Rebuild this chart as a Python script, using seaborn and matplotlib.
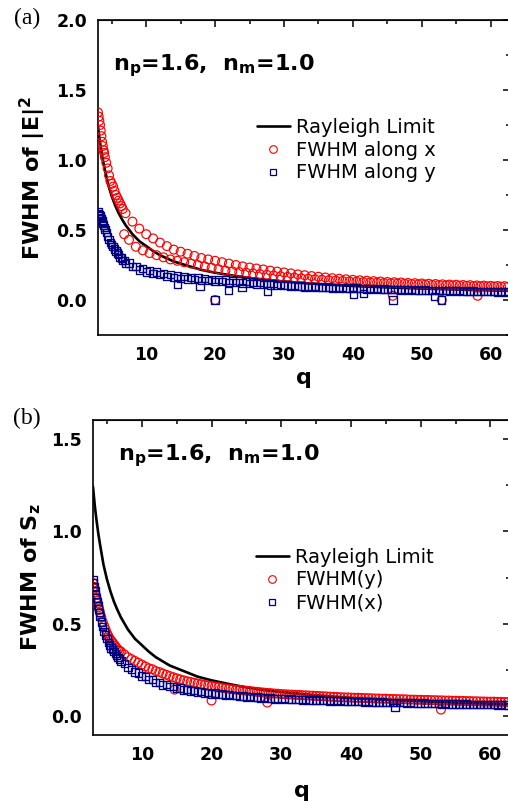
import numpy as np
import matplotlib
matplotlib.use("Agg")
import matplotlib.pyplot as plt
from matplotlib.lines import Line2D
from matplotlib.ticker import MultipleLocator
import seaborn as sns

# --------------------------------------------------------------------------------
# data
# --------------------------------------------------------------------------------
q = [3.0, 3.1, 3.2, 3.3, 3.4, 3.5, 3.6, 3.7, 3.8, 3.9,
     4.0, 4.2, 4.4, 4.6, 4.8, 5.0, 5.2, 5.4, 5.6, 5.8,
     6.0, 6.2, 6.4, 6.6, 6.8, 7.0, 7.5, 8.0, 8.5, 9.0,
     9.5, 10.0, 10.5, 11.0, 11.5, 12.0, 12.5, 13.0, 13.5, 14.0,
     14.5, 15.0, 15.5, 16.0, 16.5, 17.0, 17.5, 18.0, 18.5, 19.0,
     19.5, 20.0, 20.5, 21.0, 21.5, 22.0, 22.5, 23.0, 23.5, 24.0,
     24.5, 25.0, 25.5, 26.0, 26.5, 27.0, 27.5, 28.0, 28.5, 29.0,
     29.5, 30.0, 30.5, 31.0, 31.5, 32.0, 32.5, 33.0, 33.5, 34.0,
     34.5, 35.0, 35.5, 36.0, 36.5, 37.0, 37.5, 38.0, 38.5, 39.0,
     39.5, 40.0, 40.5, 41.0, 41.5, 42.0, 42.5, 43.0, 43.5, 44.0,
     44.5, 45.0, 45.5, 46.0, 46.5, 47.0, 47.5, 48.0, 48.5, 49.0,
     49.5, 50.0, 50.5, 51.0, 51.5, 52.0, 52.5, 53.0, 53.5, 54.0,
     54.5, 55.0, 55.5, 56.0, 56.5, 57.0, 57.5, 58.0, 58.5, 59.0,
     59.5, 60.0, 60.5, 61.0, 61.5, 62.0, 62.5]

# (a) FWHM of |E|^2
a_along_x = [1.34, 1.31, 1.28, 1.25, 1.21, 1.17, 1.13, 1.10, 1.07, 1.05,
             1.02, 0.98, 0.94, 0.89, 0.85, 0.83, 0.81, 0.78, 0.75, 0.73,
             0.71, 0.69, 0.67, 0.65, 0.47, 0.62, 0.43, 0.56, 0.38, 0.51,
             0.355, 0.47, 0.335, 0.44, 0.32, 0.41, 0.305, 0.385, 0.29, 0.36,
             0.28, 0.345, 0.27, 0.33, 0.26, 0.315, 0.25, 0.30, 0.24, 0.29,
             0.23, 0.28, 0.22, 0.27, 0.21, 0.26, 0.205, 0.25, 0.20, 0.24,
             0.195, 0.232, 0.19, 0.225, 0.185, 0.218, 0.18, 0.21, 0.175, 0.203,
             0.17, 0.197, 0.165, 0.19, 0.16, 0.183, 0.155, 0.177, 0.152, 0.171,
             0.148, 0.166, 0.145, 0.161, 0.142, 0.156, 0.139, 0.152, 0.136, 0.148,
             0.133, 0.144, 0.131, 0.141, 0.128, 0.138, 0.126, 0.135, 0.124, 0.132,
             0.122, 0.129, 0.12, 0.127, 0.118, 0.125, 0.116, 0.122, 0.114, 0.12,
             0.112, 0.118, 0.11, 0.116, 0.108, 0.114, 0.107, 0.112, 0.105, 0.11,
             0.104, 0.109, 0.102, 0.107, 0.101, 0.106, 0.099, 0.104, 0.098, 0.103,
             0.097, 0.101, 0.096, 0.1, 0.095, 0.099, 0.094]
a_along_y = [0.63, 0.62, 0.61, 0.60, 0.59, 0.58, 0.565, 0.55, 0.535, 0.52,
             0.505, 0.48, 0.455, 0.43, 0.41, 0.395, 0.38, 0.365, 0.35, 0.335,
             0.325, 0.305, 0.30, 0.28, 0.28, 0.26, 0.265, 0.24, 0.24, 0.215,
             0.225, 0.20, 0.21, 0.19, 0.20, 0.18, 0.19, 0.17, 0.18, 0.16,
             0.172, 0.155, 0.167, 0.15, 0.162, 0.145, 0.157, 0.14, 0.152, 0.137,
             0.148, 0.133, 0.145, 0.13, 0.142, 0.127, 0.138, 0.124, 0.135, 0.121,
             0.132, 0.118, 0.128, 0.115, 0.124, 0.112, 0.12, 0.108, 0.116, 0.105,
             0.112, 0.102, 0.108, 0.099, 0.104, 0.096, 0.101, 0.094, 0.098, 0.092,
             0.096, 0.09, 0.094, 0.088, 0.092, 0.086, 0.09, 0.085, 0.088, 0.083,
             0.086, 0.082, 0.085, 0.08, 0.083, 0.079, 0.082, 0.077, 0.08, 0.076,
             0.079, 0.075, 0.077, 0.073, 0.076, 0.072, 0.075, 0.071, 0.073, 0.07,
             0.072, 0.069, 0.071, 0.068, 0.07, 0.067, 0.069, 0.066, 0.068, 0.065,
             0.067, 0.064, 0.066, 0.063, 0.065, 0.062, 0.064, 0.061, 0.063, 0.06,
             0.062, 0.059, 0.061, 0.058, 0.06, 0.057, 0.059]
a_x_out_q = [20.0, 45.8, 52.9, 58.1]
a_x_out = [0.0, 0.03, 0.0, 0.03]
a_y_out_q = [14.5, 17.8, 20.0, 21.9, 23.9, 27.6, 40.1, 41.5, 45.8, 51.8, 52.9]
a_y_out = [0.11, 0.10, 0.0, 0.07, 0.09, 0.065, 0.04, 0.045, 0.0, 0.025, 0.0]

# (b) FWHM of S_z
b_fwhm_y = [0.72, 0.70, 0.69, 0.67, 0.655, 0.64, 0.625, 0.61, 0.59, 0.575,
            0.56, 0.535, 0.51, 0.49, 0.47, 0.45, 0.435, 0.42, 0.41, 0.40,
            0.39, 0.38, 0.37, 0.36, 0.355, 0.35, 0.335, 0.32, 0.31, 0.30,
            0.29, 0.28, 0.27, 0.26, 0.255, 0.245, 0.24, 0.232, 0.225, 0.218,
            0.212, 0.206, 0.20, 0.195, 0.19, 0.186, 0.182, 0.178, 0.174, 0.17,
            0.167, 0.164, 0.161, 0.158, 0.155, 0.152, 0.15, 0.147, 0.145, 0.143,
            0.141, 0.139, 0.137, 0.135, 0.133, 0.131, 0.129, 0.127, 0.126, 0.124,
            0.123, 0.121, 0.12, 0.119, 0.118, 0.117, 0.116, 0.115, 0.114, 0.113,
            0.112, 0.111, 0.11, 0.109, 0.108, 0.107, 0.106, 0.105, 0.104, 0.103,
            0.103, 0.102, 0.101, 0.101, 0.1, 0.099, 0.099, 0.098, 0.097, 0.097,
            0.096, 0.096, 0.095, 0.094, 0.094, 0.093, 0.093, 0.092, 0.091, 0.091,
            0.09, 0.09, 0.089, 0.089, 0.088, 0.088, 0.087, 0.087, 0.086, 0.086,
            0.085, 0.085, 0.084, 0.084, 0.083, 0.083, 0.082, 0.082, 0.081, 0.081,
            0.08, 0.08, 0.08, 0.079, 0.079, 0.078, 0.078]
b_fwhm_x = [0.74, 0.72, 0.70, 0.68, 0.66, 0.64, 0.62, 0.60, 0.58, 0.56,
            0.54, 0.51, 0.485, 0.46, 0.44, 0.42, 0.40, 0.385, 0.37, 0.36,
            0.35, 0.34, 0.33, 0.32, 0.31, 0.30, 0.285, 0.265, 0.255, 0.24,
            0.235, 0.218, 0.215, 0.198, 0.20, 0.185, 0.185, 0.17, 0.172, 0.16,
            0.162, 0.15, 0.154, 0.143, 0.147, 0.137, 0.141, 0.132, 0.135, 0.127,
            0.13, 0.122, 0.126, 0.118, 0.122, 0.115, 0.118, 0.112, 0.114, 0.108,
            0.111, 0.105, 0.108, 0.102, 0.105, 0.099, 0.102, 0.097, 0.1, 0.095,
            0.098, 0.094, 0.096, 0.092, 0.094, 0.09, 0.092, 0.088, 0.09, 0.087,
            0.089, 0.086, 0.088, 0.085, 0.087, 0.084, 0.086, 0.083, 0.085, 0.082,
            0.083, 0.081, 0.082, 0.08, 0.081, 0.079, 0.08, 0.078, 0.079, 0.077,
            0.078, 0.076, 0.077, 0.075, 0.076, 0.074, 0.075, 0.073, 0.074, 0.072,
            0.073, 0.071, 0.072, 0.07, 0.071, 0.069, 0.07, 0.068, 0.069, 0.067,
            0.068, 0.067, 0.068, 0.066, 0.067, 0.065, 0.066, 0.064, 0.065, 0.064,
            0.065, 0.063, 0.064, 0.062, 0.063, 0.062, 0.062]
b_y_out_q = [14.7, 20.0, 28.0, 52.9]
b_y_out = [0.145, 0.086, 0.075, 0.037]
b_x_out_q = [46.3]
b_x_out = [0.048]

# Rayleigh limit curve (same in both panels)
ray_q = [3.0, 3.25, 3.5, 3.75, 4.0, 4.5, 5.0, 5.5, 6.0, 6.5, 7.0, 8.0, 9.0, 10.0,
         11.0, 12.0, 14.0, 16.0, 18.0, 20.0, 22.5, 25.0, 27.5, 30.0, 35.0, 40.0,
         45.0, 50.0, 55.0, 60.0, 62.8]
ray_v = [1.24, 1.14, 1.06, 0.99, 0.93, 0.82, 0.74, 0.675, 0.62, 0.575, 0.535, 0.47,
         0.42, 0.385, 0.35, 0.32, 0.275, 0.245, 0.215, 0.195, 0.175, 0.157, 0.143,
         0.132, 0.114, 0.1, 0.09, 0.082, 0.075, 0.069, 0.066]

# --------------------------------------------------------------------------------
sns.set_style("white")
plt.rcParams.update({"font.family": ["DejaVu Sans"],
                     "text.color": "black",
                     "axes.labelcolor": "black",
                     "xtick.color": "black",
                     "ytick.color": "black",
                     "mathtext.fontset": "custom",
                     "mathtext.rm": "DejaVu Sans:bold",
                     "mathtext.bf": "DejaVu Sans:bold",
                     "mathtext.it": "DejaVu Sans:bold"})

RED = "#ff0000"
NAVY = "#000080"
W, H = 508, 802

fig = plt.figure(figsize=(W / 100, H / 100), dpi=100)
ax1 = fig.add_axes([98 / W, 1 - 335 / H, 412 / W, 315 / H])
ax2 = fig.add_axes([93 / W, 1 - 735 / H, 417 / W, 315 / H])


def style_axis(ax, ylim, yticks, xpad):
    ax.set_xlim(3, 62.8)
    ax.set_ylim(*ylim)
    ax.set_xticks([10, 20, 30, 40, 50, 60])
    ax.set_yticks(yticks)
    ax.xaxis.set_minor_locator(MultipleLocator(5))
    ax.yaxis.set_minor_locator(MultipleLocator(0.25))
    ax.set_xticklabels([str(t) for t in [10, 20, 30, 40, 50, 60]])
    ax.set_yticklabels([f"{t:.1f}" for t in yticks])
    for sp in ax.spines.values():
        sp.set_linewidth(1.2)
        sp.set_color("black")
    ax.tick_params(which="major", direction="out", length=5, width=1.1,
                   labelsize=12.5, pad=3)
    ax.tick_params(which="minor", direction="out", length=3, width=1.1)
    for lab in ax.get_xticklabels() + ax.get_yticklabels():
        lab.set_fontweight("bold")
    # mirrored ticks pointing inward on top and right
    top = ax.secondary_xaxis("top")
    top.set_xticks([10, 20, 30, 40, 50, 60])
    top.xaxis.set_minor_locator(MultipleLocator(5))
    top.set_xticklabels([])
    top.tick_params(which="major", direction="in", length=5, width=1.1)
    top.tick_params(which="minor", direction="in", length=3, width=1.1)
    right = ax.secondary_yaxis("right")
    right.set_yticks(yticks)
    right.yaxis.set_minor_locator(MultipleLocator(0.25))
    right.set_yticklabels([])
    right.tick_params(which="major", direction="in", length=5, width=1.1)
    right.tick_params(which="minor", direction="in", length=3, width=1.1)
    ax.set_xlabel("q", fontsize=16, fontweight="bold", labelpad=xpad)


def draw_panel(ax, red_q, red_v, blue_q, blue_v):
    sns.lineplot(x=ray_q, y=ray_v, ax=ax, color="black", linewidth=1.9,
                 sort=False, estimator=None, legend=False)
    sns.scatterplot(x=red_q, y=red_v, ax=ax, marker="o", s=40, color=RED,
                    facecolor="none", edgecolor=RED, linewidth=0.85,
                    legend=False, zorder=3)
    sns.scatterplot(x=blue_q, y=blue_v, ax=ax, marker="s", s=28, color=NAVY,
                    facecolor="none", edgecolor=NAVY, linewidth=0.95,
                    legend=False, zorder=4)


# ---- panel (a)
draw_panel(ax1, q + a_x_out_q, a_along_x + a_x_out,
           q + a_y_out_q, a_along_y + a_y_out)
style_axis(ax1, (-0.25, 2.0), [0.0, 0.5, 1.0, 1.5, 2.0], 3)
ax1.set_ylabel(r"FWHM of |E|$^2$", fontsize=16, fontweight="bold", labelpad=6)

# ---- panel (b)
draw_panel(ax2, q + b_y_out_q, b_fwhm_y + b_y_out,
           q + b_x_out_q, b_fwhm_x + b_x_out)
style_axis(ax2, (-0.1, 1.6), [0.0, 0.5, 1.0, 1.5], 12)
ax2.set_ylabel(r"FWHM of S$_z$", fontsize=16, fontweight="bold", labelpad=6)

for ax, (tx, ty) in ((ax1, (0.036, 0.84)), (ax2, (0.06, 0.873))):
    ax.text(tx, ty, r"$\mathbf{n_p}$=1.6,  $\mathbf{n_m}$=1.0",
            transform=ax.transAxes, fontsize=16, fontweight="bold",
            va="baseline", ha="left", color="black")


def panel_legend(ax, labels, anchor):
    handles = [
        Line2D([], [], color="black", lw=1.9),
        Line2D([], [], ls="none", marker="o", ms=5.5, mfc="none", mec=RED, mew=0.8),
        Line2D([], [], ls="none", marker="s", ms=4.8, mfc="none", mec=NAVY, mew=0.9),
    ]
    ax.legend(handles, labels, loc="upper left", bbox_to_anchor=anchor,
              frameon=False, fontsize=14, handlelength=1.7, handletextpad=0.35,
              labelspacing=0.2, borderpad=0, borderaxespad=0)


panel_legend(ax1, ["Rayleigh Limit", "FWHM along x", "FWHM along y"], (0.385, 0.69))
panel_legend(ax2, ["Rayleigh Limit", "FWHM(y)", "FWHM(x)"], (0.39, 0.595))

fig.text(27 / W, 1 - 18 / H, "(a)", family="Liberation Serif", fontsize=17,
         ha="center", va="center")
fig.text(27 / W, 1 - 418 / H, "(b)", family="Liberation Serif", fontsize=17,
         ha="center", va="center")

fig.savefig("out.png", dpi=100)
